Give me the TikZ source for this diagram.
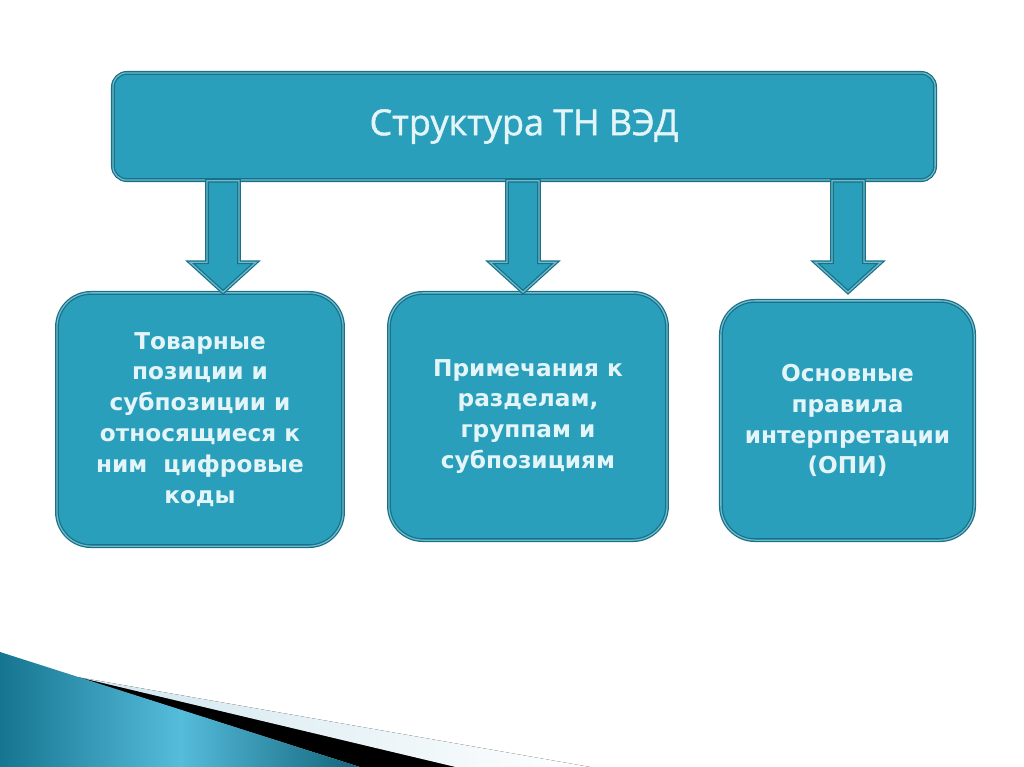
\documentclass[tikz,border=0pt]{standalone}
\usepackage{fontspec}
\setmainfont{DejaVu Sans}
\newfontfamily\titlefont[FakeBold=1.3]{Open Sans}
\usetikzlibrary{calc}
\definecolor{boxfill}{HTML}{2A9FBB}
\definecolor{boxedge}{HTML}{1B7087}
\definecolor{boxtext}{HTML}{E4F5F9}
\definecolor{wedgedark}{HTML}{167590}
\definecolor{wedgelight}{HTML}{55BCDB}
\definecolor{stripe}{HTML}{CFE6EE}

\tikzset{
  panel/.style={draw=boxedge, line width=0.9pt, double=boxfill!70!white,
    double distance=0.9pt, fill=boxfill, text=boxtext, align=center,
    inner sep=0pt},
  headbox/.style={panel, rounded corners=0.35cm, minimum width=20.55cm,
    minimum height=2.68cm, font=\titlefont\fontsize{25.5}{30}\selectfont},
  itembox/.style={panel, rounded corners=0.85cm,
    font=\bfseries\fontsize{16.5}{22}\selectfont},
  blockarr/.style={panel, to path={
    ($(\tikztostart)+(-16,0)$) -- ($(\tikztotarget)+(-16,-30)$)
    -- ($(\tikztotarget)+(-33,-30)$) -- (\tikztotarget)
    -- ($(\tikztotarget)+(33,-30)$) -- ($(\tikztotarget)+(16,-30)$)
    -- ($(\tikztostart)+(16,0)$) -- cycle}}
}

\begin{document}
\begin{tikzpicture}[x=0.025cm, y=-0.025cm]
    \useasboundingbox (0,0) rectangle (1024,767);
    \fill[white] (0,0) rectangle (1024,767);

    \fill[left color=stripe, right color=white] (77,677) -- (590,767) -- (455,767) -- cycle;
    \fill[black] (77,677) -- (455,767) -- (360,767) -- cycle;
    \shade[left color=wedgedark, right color=wedgedark!85!black, middle color=wedgelight]
      (0,652) -- (360,767) -- (0,767) -- cycle;

    \node[headbox] (title) at (524,126.5) {Структура ТН ВЭД};
    \node[itembox, minimum width=7.15cm, minimum height=6.33cm] (goods) at (200,419.5)
      {Товарные\\позиции и\\субпозиции и\\относящиеся к\\ним\ \ цифровые\\коды};
    \node[itembox, minimum width=6.95cm, minimum height=6.18cm] (notes) at (528,416.5)
      {Примечания к\\разделам,\\группам и\\субпозициям};
    \node[itembox, minimum width=6.33cm, minimum height=5.98cm] (rules) at (847.5,420.5)
      {Основные\\правила\\интерпретации\\(ОПИ)};

    \coordinate (a1) at (223,0);
    \coordinate (a2) at (523,0);
    \coordinate (a3) at (848,0);
    \draw[blockarr] (title.south -| a1) to (goods.north -| a1);
    \draw[blockarr] (title.south -| a2) to (notes.north -| a2);
    \draw[blockarr] (title.south -| a3) to ($(rules.north -| a3)+(0,-8)$);
\end{tikzpicture}
\end{document}
